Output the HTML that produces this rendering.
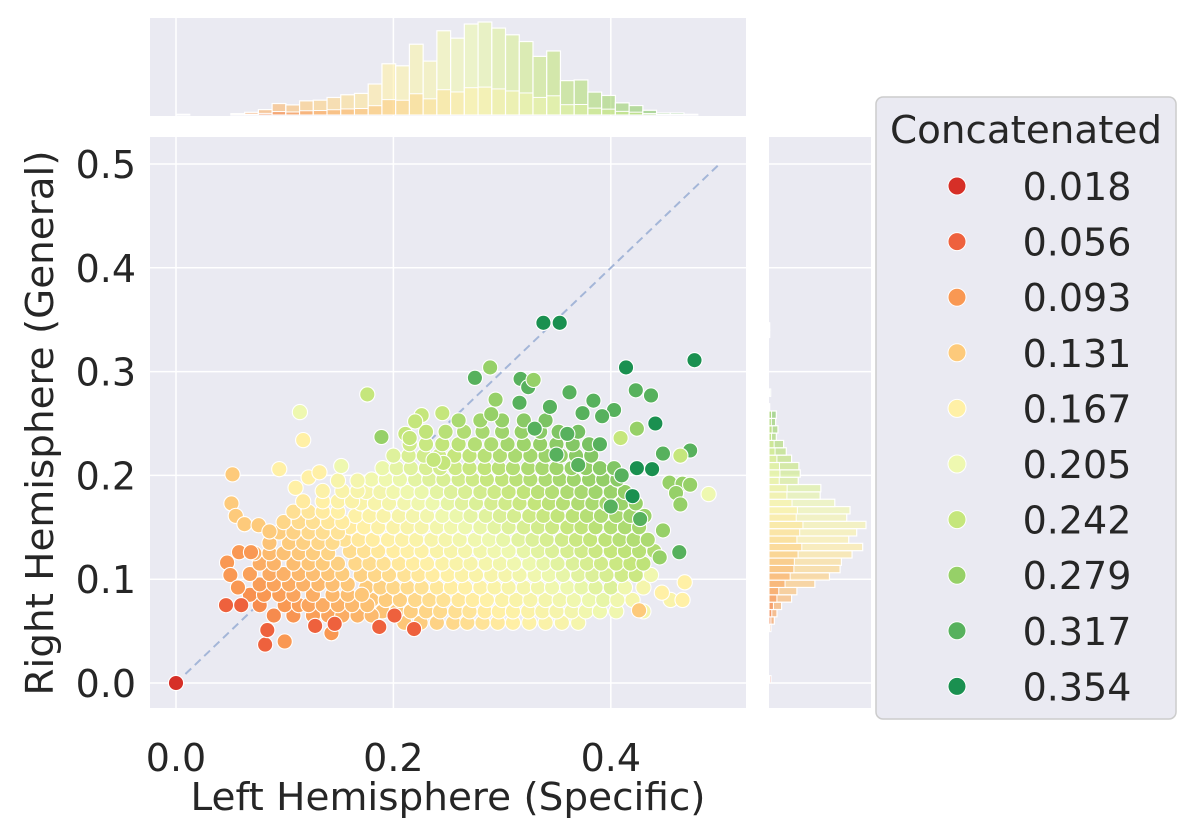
<!DOCTYPE html>
<html><head><meta charset="utf-8"><style>
html,body{margin:0;padding:0;background:#fff;}
svg{display:block;font-family:"DejaVu Sans","Liberation Sans",sans-serif;}
</style></head><body>
<svg id="chart" width="1197" height="836" viewBox="0 0 1197 836" xmlns="http://www.w3.org/2000/svg">
<rect x="150" y="137" width="596" height="571" fill="#eaeaf2"/>
<rect x="150" y="18" width="596" height="98" fill="#eaeaf2"/>
<rect x="769" y="137" width="102" height="571" fill="#eaeaf2"/>
<g id="grid"></g>
<g id="tophist"></g>
<g id="righthist"></g>
<line id="diag" stroke="#a4b6d8" stroke-width="2" stroke-dasharray="8,5"/>
<g id="pts"></g>
<g id="ticks" font-size="38" fill="#262626"></g>
<text x="448" y="810" font-size="38" fill="#262626" text-anchor="middle" textLength="515" lengthAdjust="spacingAndGlyphs">Left Hemisphere (Specific)</text>
<text x="0" y="0" transform="translate(53,423) rotate(-90)" font-size="38" fill="#262626" text-anchor="middle" textLength="545" lengthAdjust="spacingAndGlyphs">Right Hemisphere (General)</text>
<g>
<rect x="876" y="97" width="300" height="622" rx="7" fill="#eaeaf2" stroke="#cccccc" stroke-width="1.5"/>
<text x="1026" y="143" font-size="38" fill="#262626" text-anchor="middle" textLength="272" lengthAdjust="spacingAndGlyphs">Concatenated</text>
<g id="legend-entries"></g>
</g>
</svg>
<script>
const legendValues = [0.018,0.056,0.093,0.131,0.167,0.205,0.242,0.279,0.317,0.354];
const legendColors = ["#d62f27","#ee613d","#f99853","#fdca7b","#fff0a6","#eef8b0","#c5e67c","#96d068","#57b15d","#1a9050"];
const xTicks = [0.0,0.2,0.4];
const yTicks = [0.0,0.1,0.2,0.3,0.4,0.5];
const topHistCounts = [2,0,0,0,4,8,16,34,30,42,44,52,60,64,92,152,146,210,160,250,228,270,276,258,238,218,174,190,102,104,68,58,36,28,14,6,6,2];
const rightHistCounts = [6,0,0,0,0,0,0,6,16,24,38,68,84,138,182,214,218,250,282,240,264,292,234,244,198,154,156,88,94,90,68,52,44,22,27,20,22,2,0,5,0,0,0,0,0,0,0,2,2];
const points = [
[.21,.058,.127],[.225,.058,.133],[.24,.058,.139],[.255,.058,.144],[.268,.058,.15],[.282,.058,.155],[.296,.058,.16],[.31,.058,.166],[.325,.058,.172],[.34,.058,.178],[.355,.058,.183],[.37,.058,.189],
[.19,.069,.125],[.203,.069,.13],[.216,.069,.135],[.23,.069,.141],[.243,.069,.146],[.257,.069,.151],[.27,.069,.156],[.284,.069,.162],[.297,.069,.167],[.31,.069,.172],[.324,.069,.177],[.337,.069,.182],[.35,.069,.188],[.364,.069,.193],[.377,.069,.198],[.39,.069,.203],[.405,.069,.2],[.43,.069,.19],
[.18,.08,.128],[.193,.08,.133],[.206,.08,.138],[.22,.08,.144],[.233,.08,.149],[.246,.08,.154],[.26,.08,.159],[.273,.08,.164],[.286,.08,.17],[.3,.08,.175],[.313,.08,.18],[.326,.08,.185],[.34,.08,.191],[.353,.08,.196],[.366,.08,.201],[.38,.08,.206],[.393,.08,.211],[.406,.08,.2],[.42,.08,.19],[.455,.08,.18],
[.175,.092,.133],[.188,.092,.138],[.2,.092,.143],[.213,.092,.148],[.226,.092,.153],[.24,.092,.159],[.253,.092,.164],[.266,.092,.169],[.28,.092,.174],[.293,.092,.179],[.306,.092,.184],[.32,.092,.19],[.333,.092,.195],[.346,.092,.2],[.36,.092,.205],[.373,.092,.21],[.386,.092,.216],[.4,.092,.221],[.413,.092,.2],[.43,.092,.19],
[.17,.104,.138],[.183,.104,.143],[.196,.104,.148],[.21,.104,.154],[.223,.104,.159],[.236,.104,.164],[.25,.104,.17],[.263,.104,.175],[.276,.104,.18],[.29,.104,.185],[.303,.104,.19],[.316,.104,.195],[.33,.104,.201],[.343,.104,.206],[.356,.104,.211],[.37,.104,.216],[.383,.104,.221],[.396,.104,.226],[.41,.104,.232],[.423,.104,.237],[.437,.104,.2],
[.165,.115,.143],[.178,.115,.148],[.191,.115,.153],[.205,.115,.159],[.218,.115,.164],[.231,.115,.169],[.245,.115,.175],[.258,.115,.18],[.271,.115,.185],[.285,.115,.19],[.298,.115,.195],[.311,.115,.2],[.325,.115,.206],[.338,.115,.211],[.351,.115,.216],[.365,.115,.221],[.378,.115,.226],[.391,.115,.231],[.405,.115,.237],[.418,.115,.242],[.43,.115,.247],
[.16,.127,.148],[.173,.127,.153],[.186,.127,.159],[.2,.127,.164],[.213,.127,.169],[.226,.127,.174],[.24,.127,.18],[.253,.127,.185],[.266,.127,.19],[.28,.127,.195],[.293,.127,.2],[.306,.127,.205],[.32,.127,.211],[.333,.127,.216],[.346,.127,.221],[.36,.127,.226],[.373,.127,.231],[.386,.127,.237],[.4,.127,.242],[.413,.127,.247],[.426,.127,.252],[.44,.127,.258],
[.155,.138,.153],[.168,.138,.159],[.181,.138,.164],[.195,.138,.169],[.208,.138,.174],[.221,.138,.179],[.235,.138,.185],[.248,.138,.19],[.261,.138,.195],[.275,.138,.2],[.288,.138,.205],[.301,.138,.21],[.315,.138,.216],[.328,.138,.221],[.341,.138,.226],[.355,.138,.231],[.368,.138,.237],[.381,.138,.242],[.395,.138,.247],[.408,.138,.252],[.421,.138,.257],[.434,.138,.262],
[.16,.15,.162],[.173,.15,.167],[.186,.15,.173],[.2,.15,.178],[.213,.15,.183],[.226,.15,.188],[.24,.15,.194],[.253,.15,.199],[.266,.15,.204],[.28,.15,.209],[.293,.15,.214],[.306,.15,.219],[.32,.15,.225],[.333,.15,.23],[.346,.15,.235],[.36,.15,.24],[.373,.15,.245],[.386,.15,.251],[.4,.15,.256],[.413,.15,.261],[.426,.15,.266],
[.165,.161,.171],[.178,.161,.176],[.191,.161,.181],[.205,.161,.187],[.218,.161,.192],[.231,.161,.197],[.245,.161,.203],[.258,.161,.208],[.271,.161,.213],[.285,.161,.218],[.298,.161,.223],[.311,.161,.228],[.325,.161,.234],[.338,.161,.239],[.351,.161,.244],[.365,.161,.249],[.378,.161,.254],[.391,.161,.259],[.405,.161,.265],[.418,.161,.27],[.431,.161,.275],
[.17,.173,.18],[.183,.173,.185],[.196,.173,.19],[.21,.173,.196],[.223,.173,.201],[.236,.173,.206],[.25,.173,.212],[.263,.173,.217],[.276,.173,.222],[.29,.173,.227],[.303,.173,.232],[.316,.173,.237],[.33,.173,.243],[.343,.173,.248],[.356,.173,.253],[.37,.173,.258],[.383,.173,.263],[.396,.173,.268],[.41,.173,.274],[.423,.173,.279],
[.175,.184,.188],[.188,.184,.193],[.2,.184,.198],[.213,.184,.203],[.226,.184,.208],[.24,.184,.214],[.253,.184,.219],[.266,.184,.224],[.28,.184,.229],[.293,.184,.234],[.306,.184,.239],[.32,.184,.245],[.333,.184,.25],[.346,.184,.255],[.36,.184,.26],[.373,.184,.265],[.386,.184,.271],[.4,.184,.276],[.413,.184,.281],
[.18,.196,.198],[.193,.196,.203],[.206,.196,.208],[.22,.196,.214],[.233,.196,.219],[.246,.196,.224],[.26,.196,.229],[.273,.196,.234],[.286,.196,.24],[.3,.196,.245],[.313,.196,.25],[.326,.196,.255],[.34,.196,.261],[.353,.196,.266],[.366,.196,.271],[.38,.196,.276],[.393,.196,.281],[.406,.196,.286],
[.19,.207,.208],[.203,.207,.213],[.216,.207,.218],[.23,.207,.224],[.243,.207,.229],[.257,.207,.234],[.27,.207,.239],[.284,.207,.245],[.297,.207,.25],[.31,.207,.255],[.324,.207,.26],[.337,.207,.265],[.35,.207,.271],[.364,.207,.276],[.377,.207,.281],[.39,.207,.286],[.403,.207,.291],
[.2,.219,.219],[.214,.219,.224],[.228,.219,.23],[.242,.219,.235],[.256,.219,.241],[.27,.219,.246],[.284,.219,.252],[.298,.219,.257],[.312,.219,.263],[.326,.219,.268],[.34,.219,.274],[.354,.219,.279],[.368,.219,.285],[.382,.219,.29],
[.215,.23,.232],[.23,.23,.238],[.245,.23,.244],[.26,.23,.249],[.275,.23,.255],[.29,.23,.261],[.305,.23,.267],[.32,.23,.273],[.335,.23,.279],[.35,.23,.285],[.365,.23,.29],[.38,.23,.296],
[.23,.242,.245],[.248,.242,.252],[.265,.242,.258],[.282,.242,.265],[.3,.242,.272],[.318,.242,.279],[.335,.242,.286],[.352,.242,.292],[.37,.242,.299],
[.26,.253,.263],[.28,.253,.271],[.3,.253,.279],[.32,.253,.287],[.34,.253,.295],
[.09,.065,.084],[.108,.065,.091],[.126,.065,.098],[.14,.065,.104],[.153,.065,.109],[.167,.065,.114],[.18,.065,.119],
[.077,.075,.085],[.1,.075,.094],[.113,.075,.099],[.122,.075,.103],[.135,.075,.108],[.149,.075,.113],[.162,.075,.118],[.176,.075,.124],
[.068,.085,.088],[.081,.085,.093],[.095,.085,.098],[.108,.085,.103],[.126,.085,.11],[.144,.085,.117],[.158,.085,.123],[.171,.085,.128],
[.077,.095,.097],[.09,.095,.102],[.104,.095,.108],[.117,.095,.113],[.131,.095,.118],[.144,.095,.123],[.158,.095,.129],
[.068,.105,.1],[.086,.105,.107],[.099,.105,.112],[.113,.105,.117],[.126,.105,.122],[.14,.105,.128],[.153,.105,.133],
[.077,.115,.109],[.09,.115,.114],[.108,.115,.121],[.122,.115,.127],[.135,.115,.132],[.149,.115,.137],
[.072,.125,.113],[.086,.125,.119],[.099,.125,.124],[.113,.125,.129],[.126,.125,.134],[.14,.125,.14],
[.086,.135,.125],[.104,.135,.132],[.117,.135,.137],[.131,.135,.142],[.144,.135,.147],
[.095,.145,.134],[.108,.145,.139],[.122,.145,.145],[.135,.145,.15],[.149,.145,.155],
[.099,.155,.142],[.113,.155,.147],[.126,.155,.152],[.14,.155,.158],[.153,.155,.163],
[.108,.165,.151],[.122,.165,.157],[.135,.165,.162],[.149,.165,.167],
[.117,.175,.161],[.135,.175,.168],[.149,.175,.173],[.162,.175,.178],
[.135,.185,.174],[.153,.185,.181],[.167,.185,.186],
[.149,.195,.185],[.167,.195,.192],
[0,0,.018],[.082,.037,.056],[.1,.04,.093],[.084,.051,.056],[.046,.075,.056],[.06,.075,.056],
[.047,.116,.093],[.05,.104,.093],[.057,.092,.093],[.058,.126,.093],[.069,.126,.093],
[.052,.201,.131],[.051,.173,.131],[.055,.161,.131],[.063,.153,.131],[.076,.152,.131],[.086,.146,.131],
[.114,.261,.205],[.117,.234,.167],[.095,.206,.167],[.122,.198,.167],[.132,.203,.167],[.11,.188,.167],[.152,.209,.205],
[.176,.278,.242],[.189,.237,.279],[.143,.048,.093],[.187,.054,.056],[.219,.052,.056],[.201,.065,.056],[.128,.055,.056],[.146,.057,.056],
[.226,.258,.242],[.245,.26,.242],[.22,.252,.242],[.211,.24,.242],[.215,.236,.242],[.246,.212,.242],[.237,.215,.242],
[.338,.347,.354],[.353,.347,.354],[.477,.311,.354],[.414,.304,.354],[.423,.282,.317],[.437,.277,.317],[.441,.25,.354],
[.473,.224,.317],[.424,.207,.354],[.438,.206,.354],[.448,.221,.317],[.49,.182,.205],[.464,.219,.242],
[.454,.193,.279],[.466,.192,.279],[.473,.191,.279],[.46,.183,.279],[.464,.172,.279],
[.427,.158,.317],[.448,.147,.279],[.463,.126,.317],[.445,.121,.279],[.468,.097,.167],[.466,.08,.167],[.447,.087,.167],[.426,.07,.131],
[.275,.294,.317],[.289,.304,.279],[.317,.293,.317],[.324,.285,.317],[.329,.292,.279],[.362,.28,.317],[.294,.273,.279],[.29,.259,.279],
[.384,.272,.317],[.403,.263,.317],[.374,.26,.317],[.392,.257,.317],[.409,.236,.242],[.424,.245,.279],[.316,.27,.317],[.344,.266,.317],
[.36,.24,.317],[.39,.23,.317],[.41,.2,.317],[.4,.17,.317],[.42,.18,.354],[.37,.21,.317],[.35,.22,.317],[.33,.245,.317]
];
const topBinWidth = 0.48/38;
const rightBinWidth = 0.347/49;

const NS = "http://www.w3.org/2000/svg";
const X0=176, XS=1087, Y0=683, YS=1038;
const sx = v => X0 + v*XS;
const sy = v => Y0 - v*YS;
function hex(c){return [parseInt(c.slice(1,3),16),parseInt(c.slice(3,5),16),parseInt(c.slice(5,7),16)];}
function color(h){
  if(h<=legendValues[0]) return legendColors[0];
  for(let i=0;i<legendValues.length-1;i++){
    if(h<=legendValues[i+1]){
      const t=(h-legendValues[i])/(legendValues[i+1]-legendValues[i]);
      const a=hex(legendColors[i]), b=hex(legendColors[i+1]);
      return "rgb("+a.map((v,k)=>Math.round(v+(b[k]-v)*t)).join(",")+")";
    }
  }
  return legendColors[legendColors.length-1];
}
function mk(tag, attrs, parent){
  const e=document.createElementNS(NS,tag);
  for(const k in attrs) e.setAttribute(k, attrs[k]);
  parent.appendChild(e); return e;
}
const grid=document.getElementById('grid');
xTicks.forEach(t=>{
  const l1=mk('line',{x1:sx(t),x2:sx(t),y1:137,y2:708,stroke:'#fff','stroke-width':1.5},grid);
  
  
  const l2=mk('line',{x1:sx(t),x2:sx(t),y1:18,y2:116,stroke:'#fff','stroke-width':1.5},grid);
  
  
});
yTicks.forEach(t=>{
  const l1=mk('line',{x1:150,x2:746,y1:sy(t),y2:sy(t),stroke:'#fff','stroke-width':1.5},grid);
  
  
  const l2=mk('line',{x1:769,x2:871,y1:sy(t),y2:sy(t),stroke:'#fff','stroke-width':1.5},grid);
  
  
});
// top histogram
const th=document.getElementById('tophist');
const tMax=Math.max(...topHistCounts);
topHistCounts.forEach((c,k)=>{
  if(!c) return;
  const x0=sx(k*topBinWidth), x1=sx((k+1)*topBinWidth);
  const h=c/tMax*93;
  const hc=0.07+0.5*((k+0.5)*topBinWidth);
  const r=mk('rect',{x:x0,y:115-h,width:x1-x0,height:h,fill:color(hc),'fill-opacity':0.6,stroke:'#fff','stroke-width':1.2},th);
  
  
  const h2=h*0.3;
  const r2=mk('rect',{x:x0,y:115-h2,width:x1-x0,height:h2,fill:color(hc-0.04),'fill-opacity':0.5,stroke:'#fff','stroke-width':1},th);
  
  
});
// right histogram
const rh=document.getElementById('righthist');
const rMax=Math.max(...rightHistCounts);
rightHistCounts.forEach((c,k)=>{
  if(!c) return;
  const y0=sy((k+1)*rightBinWidth), y1=sy(k*rightBinWidth);
  const w=c/rMax*97;
  const hc=0.04+0.95*((k+0.5)*rightBinWidth);
  const r=mk('rect',{x:769,y:y0,width:w,height:y1-y0,fill:color(hc),'fill-opacity':0.65,stroke:'#fff','stroke-width':1.2},rh);
  
  
  const w2=w*0.35;
  const r2=mk('rect',{x:769,y:y0,width:w2,height:y1-y0,fill:color(hc-0.03),'fill-opacity':0.55,stroke:'#fff','stroke-width':1},rh);
  
  
});
// diagonal
const dg=document.getElementById('diag');
dg.setAttribute('x1',sx(0));dg.setAttribute('y1',sy(0));
dg.setAttribute('x2',sx(0.5));dg.setAttribute('y2',sy(0.5));
// points
const pg=document.getElementById('pts');
points.forEach(p=>{
  const c=mk('circle',{cx:sx(p[0]),cy:sy(p[1]),r:7.6,fill:color(p[2]),stroke:'#fff','stroke-width':1.1},pg);
  
  
});
// ticks
const tg=document.getElementById('ticks');
xTicks.forEach(t=>{
  const e=mk('text',{x:sx(t),y:771,'text-anchor':'middle'},tg);
  e.textContent=t.toFixed(1);
  
  
});
yTicks.forEach(t=>{
  const e=mk('text',{x:136,y:sy(t)+14,'text-anchor':'end'},tg);
  e.textContent=t.toFixed(1);
  
  
});
// legend
const lg=document.getElementById('legend-entries');
legendValues.forEach((v,i)=>{
  const y=186+i*55.6;
  const c=mk('circle',{cx:957,cy:y,r:9,fill:legendColors[i],stroke:'#fff','stroke-width':1},lg);
  
  
  const t=mk('text',{x:1077,y:y+14,'font-size':38,fill:'#262626','text-anchor':'middle'},lg);
  t.textContent=v.toFixed(3);
  
  
});
</script>
</body></html>
